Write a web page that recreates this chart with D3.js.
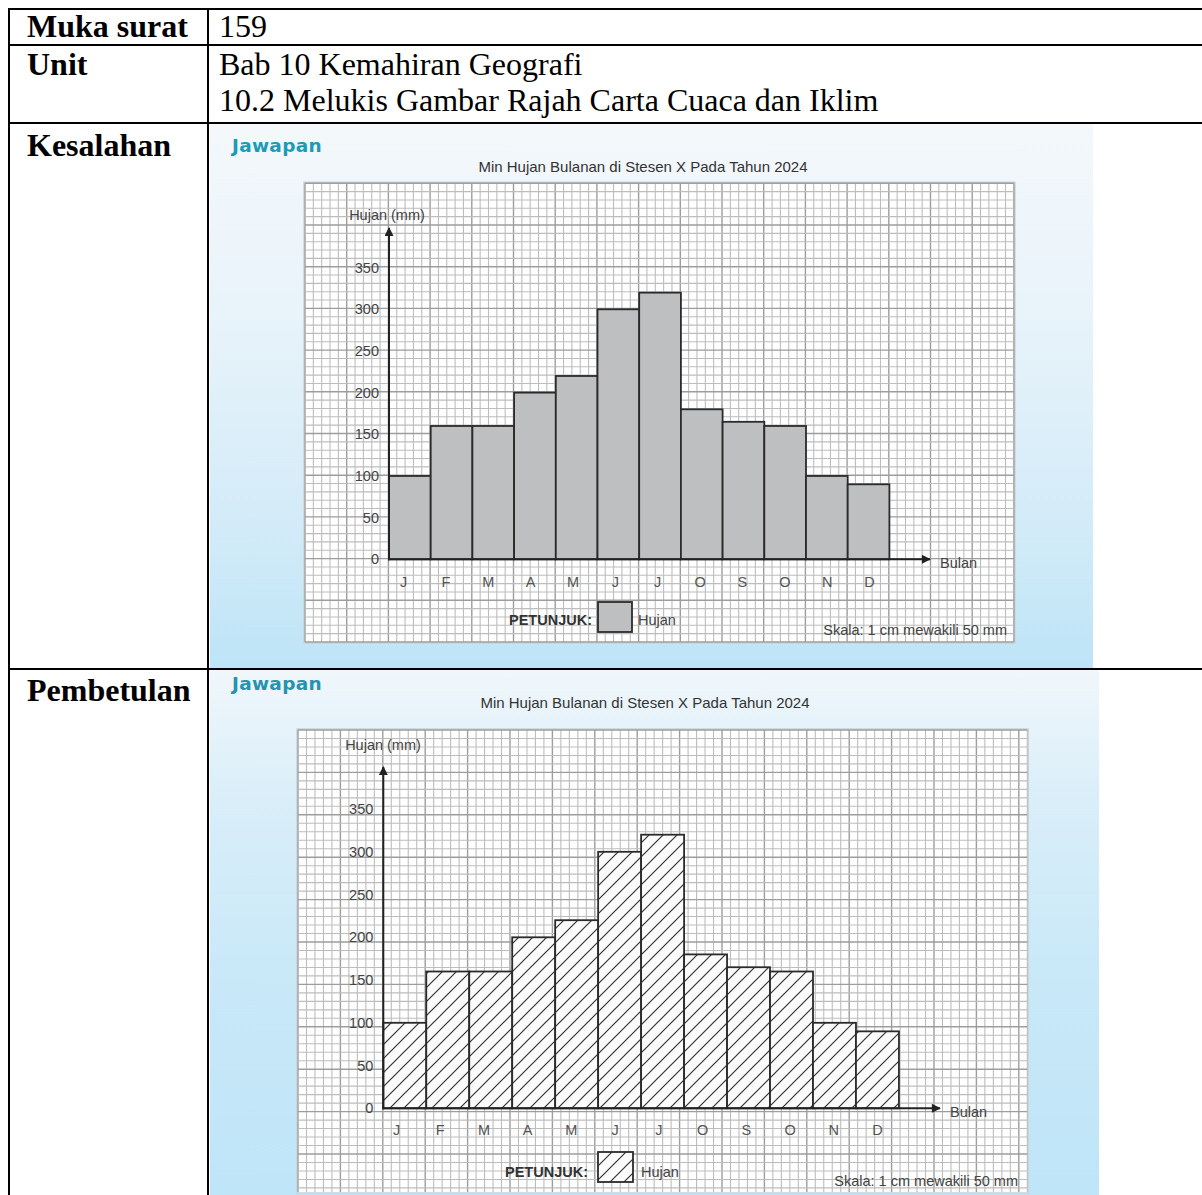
<!DOCTYPE html>
<html><head><meta charset="utf-8">
<script src="https://cdn.jsdelivr.net/npm/d3@7"></script>
<style>html,body{margin:0;padding:0;background:#fff;} svg{display:block}</style>
</head><body>
<svg id="c" width="1202" height="1195"></svg>
<script>
// ---------- DATA ----------
const months = ["J","F","M","A","M","J","J","O","S","O","N","D"];
const rainKesalahan = [100,160,160,200,220,300,320,180,165,160,100,90];
const rainPembetulan = [100,160,160,200,220,300,320,180,165,160,100,90];
const yTicks = [0,50,100,150,200,250,300,350];
const chartTitle = "Min Hujan Bulanan di Stesen X Pada Tahun 2024";
const rowLabels = ["Muka surat","Unit","Kesalahan","Pembetulan"];
const pageText = "159";
const unitLines = ["Bab 10 Kemahiran Geografi","10.2 Melukis Gambar Rajah Carta Cuaca dan Iklim"];

// ---------- LAYOUT ----------
const svg = d3.select("#c");
const defs = svg.append("defs");

function grad(id, stops){
  const lg = defs.append("linearGradient").attr("id",id).attr("x1",0).attr("y1",0).attr("x2",0).attr("y2",1);
  stops.forEach(s=>lg.append("stop").attr("offset",s[0]).attr("stop-color",s[1]));
}
grad("bg1",[[0,"#f4f8fb"],[0.35,"#e8f3fa"],[0.75,"#d2ebf8"],[1,"#bde4f7"]]);
grad("bg2",[[0,"#f0f7fb"],[0.25,"#d9eef9"],[0.6,"#c8e8f8"],[1,"#bfe5f8"]]);

const hatch = defs.append("pattern").attr("id","hatch").attr("patternUnits","userSpaceOnUse")
  .attr("width",14).attr("height",14);
hatch.append("rect").attr("width",14).attr("height",14).attr("fill","#fbfbfb");
hatch.append("path").attr("d","M-3,17 L17,-3 M-3,3 L3,-3 M11,17 L17,11")
  .attr("stroke","#333").attr("stroke-width",1.2);

const arrow = defs.append("marker").attr("id","arr").attr("viewBox","0 0 10 10")
  .attr("refX",9).attr("refY",5).attr("markerWidth",11).attr("markerHeight",9)
  .attr("markerUnits","userSpaceOnUse").attr("orient","auto");
arrow.append("path").attr("d","M0,0 L10,5 L0,10 Z").attr("fill","#222");

const cfg1 = {bg:"url(#bg1)", px:210, py:124, pw:883, ph:544,
  jx:232, jy:152, tx:643, ty:172,
  gx:305, gy:183.3, cell:8.34, nx:85, ny:55,
  ax:389, ay:559.3, bw:41.7, k:0.8333, yTop:228, xEnd:930,
  l0:403, l1:869, ly:589,
  hx:387, hy:220, bx:940, by:568,
  petX:592, petY:625, boxX:598, boxY:602, boxW:34, boxH:30, hujX:638,
  skX:1007, skY:635, jcol:"#1d9ab6"};
const cfg2 = {bg:"url(#bg2)", px:210, py:670, pw:889, ph:525,
  jx:232, jy:690, tx:645, ty:708,
  gx:298, gy:730, cell:8.48, nx:86, ny:54, gyEnd:1192,
  ax:383.3, ay:1108.3, bw:42.97, k:0.855, yTop:767, xEnd:940,
  l0:396, l1:877, ly:1137,
  hx:383, hy:750, bx:950, by:1117,
  petX:588, petY:1177, boxX:598, boxY:1152, boxW:35, boxH:30, hujX:641,
  skX:1018, skY:1186, jcol:"#2593ad"};

function drawChart(c, data, hatched){
  const g = svg.append("g");
  g.append("rect").attr("x",c.px).attr("y",c.py).attr("width",c.pw).attr("height",c.ph).attr("fill",c.bg);
  g.append("text").attr("x",c.jx).attr("y",c.jy).text("Jawapan")
    .attr("font-family","DejaVu Sans").attr("font-weight","bold").attr("font-size",18.5)
    .attr("letter-spacing",0.3).attr("fill",c.jcol);
  g.append("text").attr("x",c.tx).attr("y",c.ty).attr("text-anchor","middle").text(chartTitle)
    .attr("font-family","Liberation Sans").attr("font-size",15).attr("fill","#333");

  // grid paper
  const gx1 = c.gx + c.nx*c.cell;
  const gy1 = c.gyEnd || (c.gy + c.ny*c.cell);
  const grid = g.append("g");
  grid.append("rect").attr("x",c.gx-1).attr("y",c.gy-1).attr("width",gx1-c.gx+2).attr("height",gy1-c.gy+2)
    .attr("fill","#fff").attr("stroke","#c9d3da").attr("stroke-width",1.5);
  const vx = d3.range(c.nx+1), hy = d3.range(c.ny+1).filter(i=>c.gy+i*c.cell<=gy1+0.5);
  grid.selectAll("line.v").data(vx).join("line")
    .attr("x1",i=>c.gx+i*c.cell).attr("x2",i=>c.gx+i*c.cell).attr("y1",c.gy).attr("y2",gy1)
    .attr("stroke",i=>i%5===0?"#9d9d9d":"#bdbdbd").attr("stroke-width",i=>i%5===0?1.4:1.1);
  grid.selectAll("line.h").data(hy).join("line")
    .attr("y1",i=>c.gy+i*c.cell).attr("y2",i=>c.gy+i*c.cell).attr("x1",c.gx).attr("x2",gx1)
    .attr("stroke",i=>i%5===0?"#9d9d9d":"#bdbdbd").attr("stroke-width",i=>i%5===0?1.4:1.1);

  // scales
  const x = d3.scaleBand().domain(d3.range(months.length)).range([c.ax, c.ax + months.length*c.bw]).padding(0);
  const y = d3.scaleLinear().domain([0,350]).range([c.ay, c.ay - 350*c.k]);
  const lx = d3.scalePoint().domain(d3.range(months.length)).range([c.l0, c.l1]);

  // bars
  g.append("g").selectAll("rect").data(data).join("rect")
    .attr("x",(d,i)=>x(i)).attr("width",x.bandwidth())
    .attr("y",d=>y(d)).attr("height",d=>y(0)-y(d))
    .attr("fill",hatched?"url(#hatch)":"#bebfc1").attr("stroke","#2b2b2b").attr("stroke-width",1.8);

  // y axis labels
  const ya = g.append("g").attr("transform",`translate(${c.ax},0)`)
    .call(d3.axisLeft(y).tickValues(yTicks).tickSize(0).tickPadding(10).tickFormat(d3.format("d")));
  ya.select(".domain").remove();
  ya.selectAll("text").attr("font-family","Liberation Sans").attr("font-size",14.5).attr("fill","#444");

  // month labels
  const xa = g.append("g").attr("transform",`translate(0,${c.ly-12})`)
    .call(d3.axisBottom(lx).tickSize(0).tickPadding(0).tickFormat(i=>months[i]));
  xa.select(".domain").remove();
  xa.selectAll("text").attr("font-family","Liberation Sans").attr("font-size",14.5).attr("fill","#555").attr("dy","0.71em");

  // axes lines with arrows
  g.append("line").attr("x1",c.ax).attr("y1",c.ay+1).attr("x2",c.ax).attr("y2",c.yTop)
    .attr("stroke","#222").attr("stroke-width",2).attr("marker-end","url(#arr)");
  g.append("line").attr("x1",c.ax-1).attr("y1",c.ay).attr("x2",c.xEnd).attr("y2",c.ay)
    .attr("stroke","#222").attr("stroke-width",2).attr("marker-end","url(#arr)");

  const tf = sel => sel.attr("font-family","Liberation Sans").attr("font-size",14.5).attr("fill","#444");
  g.append("text").attr("x",c.hx).attr("y",c.hy).attr("text-anchor","middle").text("Hujan (mm)").call(tf);
  g.append("text").attr("x",c.bx).attr("y",c.by).text("Bulan").call(tf);

  // legend
  g.append("text").attr("x",c.petX).attr("y",c.petY).attr("text-anchor","end").text("PETUNJUK:")
    .attr("font-family","Liberation Sans").attr("font-weight","bold").attr("font-size",14.5).attr("fill","#333");
  g.append("rect").attr("x",c.boxX).attr("y",c.boxY).attr("width",c.boxW).attr("height",c.boxH)
    .attr("fill",hatched?"url(#hatch)":"#bebfc1").attr("stroke","#2b2b2b").attr("stroke-width",1.8);
  g.append("text").attr("x",c.hujX).attr("y",c.petY).text("Hujan").call(tf);
  g.append("text").attr("x",c.skX).attr("y",c.skY).attr("text-anchor","end").text("Skala: 1 cm mewakili 50 mm").call(tf);
}

drawChart(cfg1, rainKesalahan, false);
drawChart(cfg2, rainPembetulan, true);

// ---------- TABLE ----------
const T = svg.append("g");
const lw = 2;
const rowsY = [9, 45, 123, 669];
rowsY.forEach(yv => T.append("line").attr("x1",8).attr("x2",1202).attr("y1",yv).attr("y2",yv)
  .attr("stroke","#000").attr("stroke-width",lw));
[9, 208].forEach(xv => T.append("line").attr("x1",xv).attr("x2",xv).attr("y1",8).attr("y2",1195)
  .attr("stroke","#000").attr("stroke-width",lw));

const serif = sel => sel.attr("font-family","Liberation Serif").attr("font-size",32).attr("fill","#000");
const labelY = [37, 75, 156, 701];
T.selectAll("text.lab").data(rowLabels).join("text").attr("class","lab")
  .attr("x",27).attr("y",(d,i)=>labelY[i]).text(d=>d).call(serif).attr("font-weight","bold");
T.append("text").attr("x",219).attr("y",37).text(pageText).call(serif);
T.selectAll("text.unit").data(unitLines).join("text").attr("class","unit")
  .attr("x",219).attr("y",(d,i)=>75+i*36).text(d=>d).call(serif);
</script>
</body></html>
